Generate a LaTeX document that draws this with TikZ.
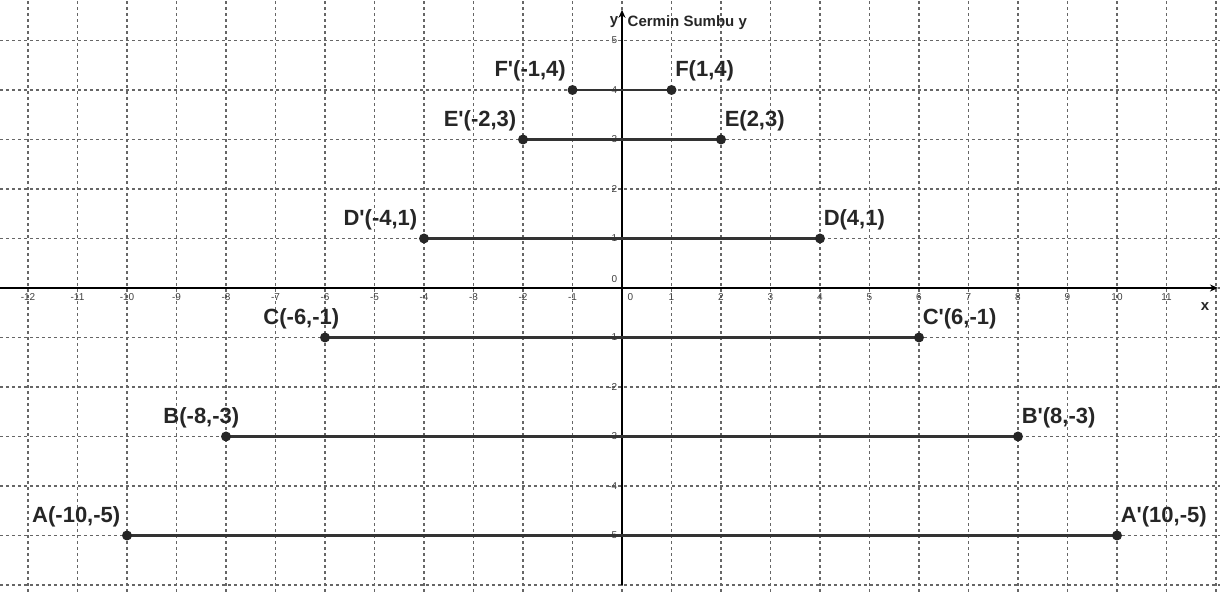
\documentclass[tikz,border=0pt]{standalone}
\usepackage{fontspec}
\setmainfont{Liberation Sans}
\usetikzlibrary{arrows.meta}

\tikzset{every picture/.style={line width=0.75pt}}
\tikzset{
  gridline/.style={black!60, line width=0.55pt, dash pattern=on 1.5pt off 1.5pt},
  axisline/.style={black, line width=1pt, -{Stealth[length=4pt,width=3.5pt]}},
  seg/.style={black!80, line width=1.4pt},
  lblR/.style={anchor=base west, inner sep=0pt, xshift=1.5pt, yshift=6.5pt,
    font=\fontsize{11}{13}\selectfont\bfseries, text=black!85},
  lblL/.style={lblR, anchor=base east, xshift=-4.5pt},
  ticklbl/.style={font=\fontsize{5}{6}\selectfont, text=black!75, inner sep=1pt},
  axlbl/.style={font=\fontsize{7.5}{9}\selectfont\bfseries, text=black!85, inner sep=0pt},
}
\newcommand{\pr}{\textquotesingle}

\begin{document}
\begin{tikzpicture}[x=24.75pt,y=24.75pt]
%frame of the picture
\coordinate (sw) at (-12.566,-6.141);
\coordinate (ne) at (12.081,5.818);
\useasboundingbox (sw) rectangle (ne);

%Grid
\foreach \i in {-12,...,12}
  \draw[gridline] (\i,-6.141) -- (\i,5.818);
\foreach \j in {-6,...,5}
  \draw[gridline] (-12.566,\j) -- (12.081,\j);

%Axes
\coordinate (xl) at (-12.566,0);
\coordinate (xr) at (12.04,0);
\coordinate (yb) at (0,-6.0);
\coordinate (yt) at (0,5.62);
\draw[axisline] (xl) -- (xr);
\draw[axisline] (yb) -- (yt);

% Tick labels
\foreach \i in {-12,...,-1,1,2,...,11}
  \node[ticklbl, anchor=north] at (\i,-0.06) {\i};
\foreach \j in {-5,...,-1,1,2,...,5}
  \node[ticklbl, anchor=east] at (-0.04,\j) {\j};
\node[ticklbl, anchor=south east] (oy) at (-0.04,0.05) {0};
\node[ticklbl, anchor=north west] (ox) at (0.06,-0.06) {0};

% Axis labels
\node[axlbl] (xlab) at (11.78,-0.38) {x};
\node[axlbl, anchor=east] (ylab) at (-0.06,5.37) {y};
\node[axlbl, anchor=west] (mirror) at (0.1,5.37) {Cermin Sumbu y};

%Points and their mirror images
\foreach \n/\x/\y in {A/-10/-5, Ap/10/-5, B/-8/-3, Bp/8/-3, C/-6/-1, Cp/6/-1,
                      Dp/-4/1, D/4/1, Ep/-2/3, E/2/3, Fp/-1/4, F/1/4}
  \coordinate (\n) at (\x,\y);

%Segments
\draw[seg] (A) -- (Ap);
\draw[seg] (B) -- (Bp);
\draw[seg] (C) -- (Cp);
\draw[seg] (Dp) -- (D);
\draw[seg] (Ep) -- (E);
\draw[seg] (Fp) -- (F);
\foreach \n in {A,Ap,B,Bp,C,Cp,Dp,D,Ep,E,Fp,F}
  \fill[black!85] (\n) circle [radius=2.5pt];

% Text Node
\node[lblL] (lA) at (A) {A(-10,-5)};
\node[lblR] (lAp) at (Ap) {A\pr(10,-5)};
\node[lblL, xshift=10pt] (lB) at (B) {B(-8,-3)};
\node[lblR] (lBp) at (Bp) {B\pr(8,-3)};
\node[lblL, xshift=10.5pt] (lC) at (C) {C(-6,-1)};
\node[lblR] (lCp) at (Cp) {C\pr(6,-1)};
\node[lblL] (lDp) at (Dp) {D\pr(-4,1)};
\node[lblR] (lD) at (D) {D(4,1)};
\node[lblL] (lEp) at (Ep) {E\pr(-2,3)};
\node[lblR] (lE) at (E) {E(2,3)};
\node[lblL] (lFp) at (Fp) {F\pr(-1,4)};
\node[lblR] (lF) at (F) {F(1,4)};

\end{tikzpicture}
\end{document}
